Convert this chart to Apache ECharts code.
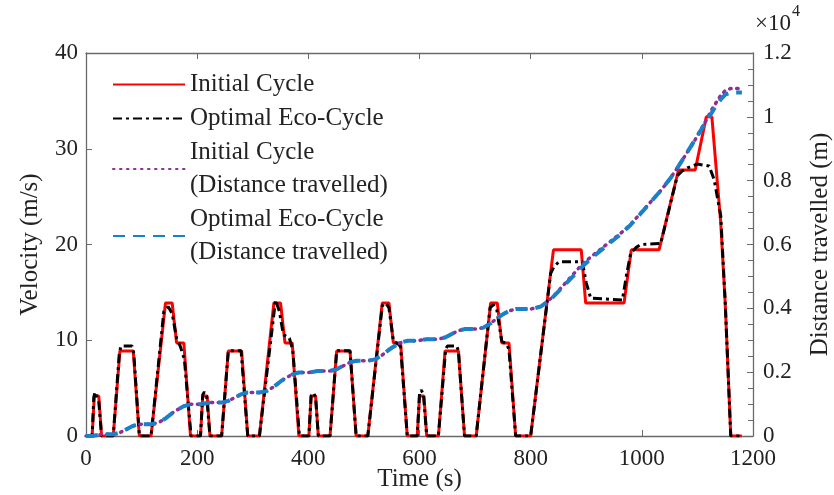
<!DOCTYPE html>
<html>
<head>
<meta charset="utf-8">
<script src="https://cdn.jsdelivr.net/npm/echarts@6/dist/echarts.min.js"></script>
<style>
  html, body { margin: 0; padding: 0; background: #fff; }
  #chart { width: 834px; height: 495px; }
</style>
</head>
<body>
<div id="chart"></div>
<script>
// ---- Data ----
// Time (s) / velocity (m/s) for the initial cycle
const initialTime = [0,11,15,23,28,49,61,85,96,117,143,155,163,176,188,
  195,206,210,218,223,244,256,280,291,312,338,350,358,371,383,
  390,401,405,413,418,439,451,475,486,507,533,545,553,566,578,
  585,596,600,608,613,634,646,670,681,702,728,740,748,761,773,
  780,800,841,891,899,968,981,1031,1066,1096,1116,1126,1142,1150,1160,1180];
const initialVelocity = [0,0,4.17,4.17,0,0,8.89,8.89,0,0,13.89,13.89,9.72,9.72,0,
  0,0,4.17,4.17,0,0,8.89,8.89,0,0,13.89,13.89,9.72,9.72,0,
  0,0,4.17,4.17,0,0,8.89,8.89,0,0,13.89,13.89,9.72,9.72,0,
  0,0,4.17,4.17,0,0,8.89,8.89,0,0,13.89,13.89,9.72,9.72,0,
  0,0,19.44,19.44,13.89,13.89,19.44,19.44,27.78,27.78,33.33,33.33,22.22,13.89,0,0];

// Time (s) / velocity (m/s) for the optimal eco-cycle
const ecoTime = [0,11,14,16,19,23,28,49,60,63,83,86,96,117,140,148,155,163,170,177,189,
  195,206,210,213,217,223,244,256,279,291,312,341,348,355,366,372,384,
  390,401,405,409,413,418,439,451,475,486,507,533,539,545,553,562,566,578,
  585,596,600,603,607,613,634,647,650,667,670,681,702,727,733,739,748,757,761,773,
  780,800,836,842,851,893,900,908,965,973,980,990,998,1034,1052,1064,1073,1082,1100,1121,1130,1142,1150,1160,1180];
const ecoVelocity = [0,0,4.0,4.6,4.4,3.6,0,0,8.7,9.4,9.4,8.6,0,0,13.0,13.5,12.8,10.2,9.3,8.0,0,
  0,0,4.3,4.6,4.2,0,0,8.9,8.9,0,0,14.2,13.0,10.6,10.2,9.0,0,
  0,0,4.2,4.5,4.1,0,0,8.9,8.9,0,0,13.6,13.9,13.4,9.9,9.6,9.3,0,
  0,0,4.4,4.8,4.4,0,0,9.0,9.4,9.4,8.9,0,0,13.4,13.7,13.2,9.9,9.6,9.0,0,
  0,0,17.0,17.7,18.2,18.2,16.0,14.4,14.2,17.0,19.1,19.7,20.0,20.1,24.4,27.2,27.7,28.0,28.4,28.2,26.8,23.0,14.0,0,0];

// Time (s) / distance travelled (m), initial cycle
const initialDistTime = [0,11,28,49,61,85,96,117,130,143,155,163,176,188,
  206,223,244,256,280,291,312,325,338,350,358,371,383,
  401,418,439,451,475,486,507,520,533,545,553,566,578,
  596,613,634,646,670,681,702,715,728,740,748,761,773,
  800,820,841,891,899,968,981,1031,1048,1066,1096,1116,1126,1142,1150,1160,1180];
const initialDistance = [0,0,52,52,105,319,368,368,413,548,715,809,936,994,
  994,1046,1046,1099,1313,1362,1362,1407,1542,1709,1803,1930,1988,
  1988,2040,2040,2093,2307,2356,2356,2401,2536,2703,2797,2924,2982,
  2982,3034,3034,3087,3301,3350,3350,3395,3530,3697,3791,3918,3976,
  3976,4071,4375,5347,5480,6438,6655,7627,7992,8453,9287,9898,10231,10676,10820,10889,10889];

// Time (s) / distance travelled (m), optimal eco-cycle
const ecoDistTime = [0,11,28,49,61,85,96,117,130,143,155,163,176,188,
  206,223,244,256,280,291,312,325,338,350,358,371,383,
  401,418,439,451,475,486,507,520,533,545,553,566,578,
  596,613,634,646,670,681,702,715,728,740,748,761,773,
  800,818,836,851,893,908,965,980,998,1034,1052,1064,1082,1100,1121,1130,1142,1150,1160,1180];
const ecoDistance = [0,0,52,52,105,319,368,368,413,548,715,809,936,994,
  994,1046,1046,1099,1313,1362,1362,1407,1542,1709,1803,1930,1988,
  1988,2040,2040,2093,2307,2356,2356,2401,2536,2703,2797,2924,2982,
  2982,3034,3034,3087,3301,3350,3350,3395,3530,3697,3791,3918,3976,
  3976,4053,4283,4547,5309,5554,6369,6619,6970,7690,8090,8400,8897,9405,9999,10247,10546,10694,10764,10764];

const timeTicks = [0, 200, 400, 600, 800, 1000, 1200];
const velocityTicks = [0, 10, 20, 30, 40];
const distanceTicks = [0, 0.2, 0.4, 0.6, 0.8, 1, 1.2]; // x 10^4 m

const seriesNames = ['Initial Cycle', 'Optimal Eco-Cycle',
  'Initial Cycle\n(Distance travelled)', 'Optimal Eco-Cycle\n(Distance travelled)'];

// ---- Chart ----
const zip = (a, b) => a.map((t, i) => [t, b[i]]);
const FONT = 'Liberation Serif';
const TXT = '#222';
const AX = '#6a6a6a';

const chart = echarts.init(document.getElementById('chart'), null, { renderer: 'canvas' });
chart.setOption({
  animation: false,
  backgroundColor: '#fff',
  textStyle: { fontFamily: FONT, color: TXT },
  grid: { left: 86, right: 81, top: 53, bottom: 59, containLabel: false, outerBoundsMode: 'none' },
  legend: {
    orient: 'vertical', left: 107, top: 63,
    itemWidth: 72, itemHeight: 14, itemGap: 1,
    data: seriesNames,
    itemStyle: { opacity: 0 },
    textStyle: { fontFamily: FONT, fontSize: 25, lineHeight: 33, color: TXT }
  },
  xAxis: [{
    type: 'value', position: 'bottom',
    min: timeTicks[0], max: timeTicks[timeTicks.length - 1], interval: timeTicks[1] - timeTicks[0],
    name: 'Time (s)', nameLocation: 'middle', nameGap: 31, nameMoveOverlap: false,
    nameTextStyle: { fontFamily: FONT, fontSize: 25, color: TXT },
    axisLine: { show: true, onZero: false, lineStyle: { color: AX, width: 1.3 } },
    axisTick: { show: true, inside: true, length: 6, lineStyle: { color: AX } },
    axisLabel: { fontFamily: FONT, fontSize: 23, color: TXT, margin: 11, formatter: v => String(v) },
    splitLine: { show: false }
  }, {
    type: 'value', position: 'top',
    min: timeTicks[0], max: timeTicks[timeTicks.length - 1], interval: timeTicks[1] - timeTicks[0],
    axisLine: { show: true, onZero: false, lineStyle: { color: AX, width: 1.3 } },
    axisTick: { show: true, inside: true, length: 6, lineStyle: { color: AX } },
    axisLabel: { show: false },
    splitLine: { show: false }
  }],
  yAxis: [{
    type: 'value', position: 'left',
    min: velocityTicks[0], max: velocityTicks[velocityTicks.length - 1], interval: velocityTicks[1] - velocityTicks[0],
    name: 'Velocity (m/s)', nameLocation: 'middle', nameGap: 43, nameRotate: 90, nameMoveOverlap: false,
    nameTextStyle: { fontFamily: FONT, fontSize: 25, color: TXT },
    axisLine: { show: true, onZero: false, lineStyle: { color: AX, width: 1.3 } },
    axisTick: { show: true, inside: true, length: 6, lineStyle: { color: AX } },
    axisLabel: { fontFamily: FONT, fontSize: 23, color: TXT, margin: 8 },
    splitLine: { show: false }
  }, {
    type: 'value', position: 'right',
    min: distanceTicks[0] * 1e4, max: distanceTicks[distanceTicks.length - 1] * 1e4,
    interval: (distanceTicks[1] - distanceTicks[0]) * 1e4,
    name: 'Distance travelled (m)', nameLocation: 'middle', nameGap: 55, nameRotate: 90, nameMoveOverlap: false,
    nameTextStyle: { fontFamily: FONT, fontSize: 25, color: TXT },
    axisLine: { show: true, onZero: false, lineStyle: { color: AX, width: 1.3 } },
    axisTick: { show: true, inside: true, length: 6, lineStyle: { color: AX } },
    minorTick: { show: true, splitNumber: 4, length: 5, lineStyle: { color: AX } },
    axisLabel: { fontFamily: FONT, fontSize: 23, color: TXT, margin: 10,
      formatter: v => String(+(v / 1e4).toFixed(1)) },
    splitLine: { show: false }
  }],
  graphic: [{
    type: 'text', left: 755, top: 4,
    style: {
      text: '{a|×10}{s|4}',
      rich: {
        a: { fontFamily: FONT, fontSize: 23, fill: TXT, padding: [14, 0, 0, 0] },
        s: { fontFamily: FONT, fontSize: 16, fill: TXT, padding: [0, 0, 10, 1] }
      }
    }
  }],
  series: [{
    name: seriesNames[0], type: 'line', xAxisIndex: 0, yAxisIndex: 0,
    data: zip(initialTime, initialVelocity), symbol: 'none', z: 2,
    lineStyle: { color: '#ff0000', width: 3 }, itemStyle: { color: '#ff0000' }
  }, {
    name: seriesNames[1], type: 'line', xAxisIndex: 0, yAxisIndex: 0,
    data: zip(ecoTime, ecoVelocity), symbol: 'none', z: 3,
    lineStyle: { color: '#000000', width: 3, type: [9, 4, 3, 4] }, itemStyle: { color: '#000000' }
  }, {
    name: seriesNames[2], type: 'line', xAxisIndex: 0, yAxisIndex: 1,
    data: zip(initialDistTime, initialDistance), symbol: 'none', z: 4,
    lineStyle: { color: '#8e2f98', width: 3.5, type: [1.5, 5.5], cap: 'round' }, itemStyle: { color: '#8e2f98' }
  }, {
    name: seriesNames[3], type: 'line', xAxisIndex: 0, yAxisIndex: 1,
    data: zip(ecoDistTime, ecoDistance), symbol: 'none', z: 5,
    lineStyle: { color: '#1a80c8', width: 4, type: [12, 8] }, itemStyle: { color: '#1a80c8' }
  }]
});
</script>
</body>
</html>
